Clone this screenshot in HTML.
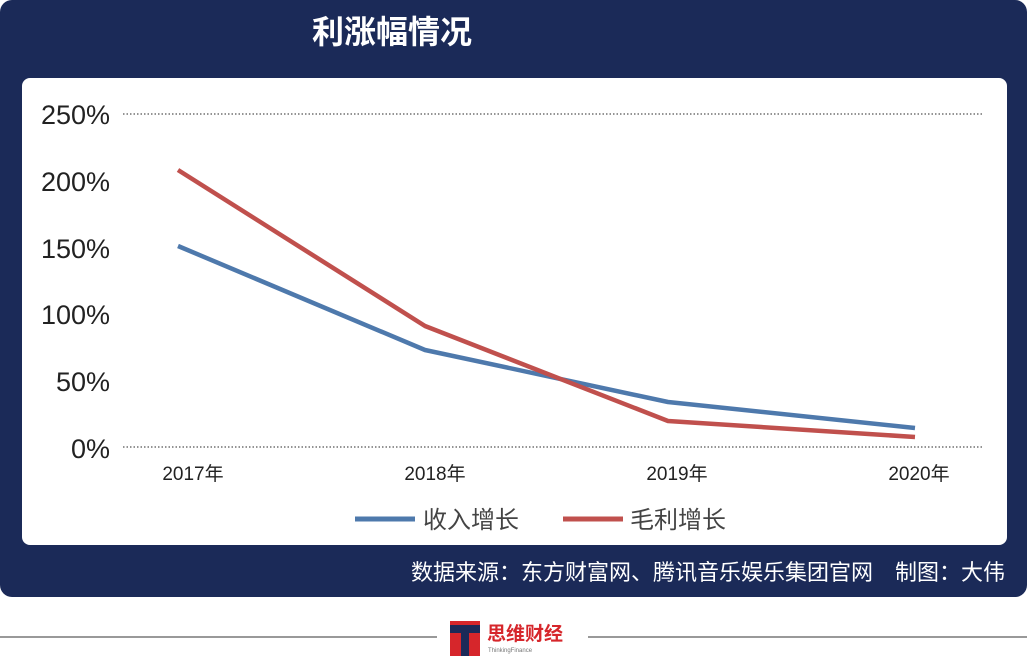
<!DOCTYPE html>
<html><head><meta charset="utf-8"><style>
body{margin:0;width:1027px;height:656px;background:#fff;overflow:hidden;font-family:"Liberation Sans","Noto Sans CJK SC",sans-serif}
</style></head><body>
<svg width="1027" height="656" xmlns="http://www.w3.org/2000/svg" style="display:block">
<rect x="0" y="0" width="1027" height="597" rx="12" fill="#1b2a58"/>
<text x="392" y="43" font-size="32" font-weight="bold" fill="#fff" text-anchor="middle" font-family="Noto Sans CJK SC, sans-serif">利涨幅情况</text>
<rect x="22" y="78" width="985" height="467" rx="8" fill="#fff"/>
<g stroke="#555" stroke-width="1.3" stroke-dasharray="1.5,2">
<line x1="123" y1="114" x2="983" y2="114"/>
<line x1="123" y1="447" x2="983" y2="447"/>
</g>
<g font-size="27" fill="#222" text-anchor="end" font-family="Liberation Sans, sans-serif">
<text x="110" y="124">250%</text><text x="110" y="191">200%</text><text x="110" y="258">150%</text>
<text x="110" y="324">100%</text><text x="110" y="391">50%</text><text x="110" y="458">0%</text>
</g>
<g font-size="19" fill="#222" text-anchor="middle" font-family="Liberation Sans, Noto Sans CJK SC, sans-serif">
<text x="193" y="480">2017年</text><text x="435" y="480">2018年</text><text x="677" y="480">2019年</text><text x="919" y="480">2020年</text>
</g>
<polyline points="178,246 425,350 668,402 915,428" fill="none" stroke="#4e79ac" stroke-width="4.5" stroke-linejoin="round"/>
<polyline points="178,170 425,326 668,421 915,437" fill="none" stroke="#c0504d" stroke-width="4.5" stroke-linejoin="round"/>
<line x1="355" y1="519" x2="415" y2="519" stroke="#4e79ac" stroke-width="5"/>
<text x="423" y="528" font-size="24" fill="#444" font-family="Noto Sans CJK SC, sans-serif">收入增长</text>
<line x1="563" y1="519" x2="623" y2="519" stroke="#c0504d" stroke-width="5"/>
<text x="630" y="528" font-size="24" fill="#444" font-family="Noto Sans CJK SC, sans-serif">毛利增长</text>
<text x="1005" y="580" font-size="22" fill="#fff" text-anchor="end" font-family="Noto Sans CJK SC, sans-serif">数据来源：东方财富网、腾讯音乐娱乐集团官网　制图：大伟</text>
<line x1="0" y1="637" x2="437" y2="637" stroke="#999" stroke-width="2"/>
<line x1="588" y1="637" x2="1027" y2="637" stroke="#999" stroke-width="2"/>
<rect x="450" y="621" width="30" height="35" fill="#d6262b"/>
<rect x="450" y="625" width="30" height="8" fill="#1b2a58"/>
<rect x="461" y="633" width="8" height="23" fill="#1b2a58"/>
<text x="487" y="640" font-size="19" font-weight="bold" fill="#d6262b" font-family="Noto Sans CJK SC, sans-serif">思维财经</text>
<text x="488" y="652" font-size="6" fill="#777">ThinkingFinance</text>
</svg>
</body></html>
